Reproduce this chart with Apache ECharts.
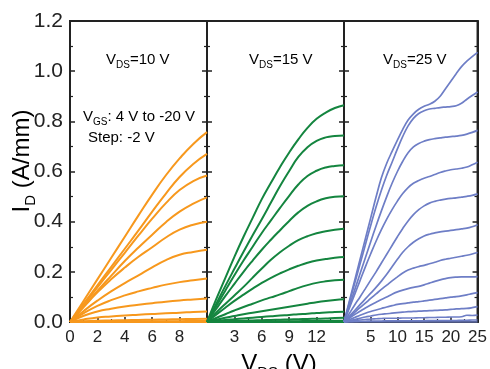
<!DOCTYPE html>
<html>
<head>
<meta charset="utf-8">
<script src="https://cdn.jsdelivr.net/npm/echarts@6/dist/echarts.min.js"></script>
<style>
  html, body { margin: 0; padding: 0; background: #fff; }
  #chart { width: 490px; height: 369px; }
</style>
</head>
<body>
<div id="chart"></div>
<script>
// Output characteristics I_D–V_DS, V_GS from 4 V to -20 V in -2 V steps.

// ---- V_DS = 10 V sweep (x in volts) ----
const vds10X = [0, 1, 2, 3, 4, 5, 6, 7, 8, 9, 10];
const vds10Curves = [
  [0, 0.085, 0.170, 0.255, 0.340, 0.425, 0.508, 0.585, 0.652, 0.710, 0.757],
  [0, 0.073, 0.146, 0.219, 0.292, 0.365, 0.440, 0.512, 0.578, 0.630, 0.670],
  [0, 0.069, 0.138, 0.207, 0.276, 0.345, 0.412, 0.474, 0.526, 0.562, 0.584],
  [0, 0.062, 0.124, 0.184, 0.243, 0.297, 0.348, 0.398, 0.440, 0.472, 0.497],
  [0, 0.060, 0.118, 0.170, 0.217, 0.260, 0.298, 0.337, 0.368, 0.388, 0.400],
  [0, 0.044, 0.085, 0.122, 0.155, 0.186, 0.218, 0.247, 0.268, 0.279, 0.288],
  [0, 0.035, 0.064, 0.087, 0.106, 0.122, 0.136, 0.149, 0.159, 0.166, 0.173],
  [0, 0.025, 0.042, 0.053, 0.062, 0.069, 0.075, 0.081, 0.086, 0.090, 0.094],
  [0, 0.010, 0.018, 0.022, 0.026, 0.029, 0.032, 0.035, 0.037, 0.040, 0.042],
  [0, 0.003, 0.005, 0.006, 0.007, 0.008, 0.009, 0.010, 0.011, 0.012, 0.013],
  [0, 0.001, 0.001, 0.002, 0.002, 0.002, 0.003, 0.003, 0.003, 0.004, 0.004],
  [0, 0, 0, 0, 0, 0.001, 0.001, 0.001, 0.001, 0.001, 0.001],
  [0, 0, 0, 0, 0, 0, 0, 0, 0, 0, 0]
];

// ---- V_DS = 15 V sweep ----
const vds15X = [0, 1, 2, 3, 4, 5, 6, 7, 8, 9, 10, 11, 12, 13, 14, 15];
const vds15Curves = [
  [0, 0.090, 0.175, 0.260, 0.340, 0.415, 0.490, 0.555, 0.618, 0.676, 0.728, 0.774, 0.810, 0.835, 0.853, 0.864],
  [0, 0.072, 0.143, 0.212, 0.280, 0.346, 0.410, 0.476, 0.542, 0.602, 0.658, 0.697, 0.722, 0.736, 0.742, 0.744],
  [0, 0.063, 0.125, 0.186, 0.245, 0.300, 0.355, 0.405, 0.455, 0.503, 0.548, 0.582, 0.603, 0.616, 0.622, 0.625],
  [0, 0.052, 0.103, 0.152, 0.200, 0.245, 0.288, 0.328, 0.366, 0.403, 0.437, 0.463, 0.481, 0.493, 0.499, 0.501],
  [0, 0.037, 0.072, 0.106, 0.140, 0.177, 0.213, 0.248, 0.278, 0.304, 0.326, 0.342, 0.354, 0.362, 0.368, 0.372],
  [0, 0.029, 0.057, 0.084, 0.109, 0.133, 0.156, 0.176, 0.194, 0.210, 0.224, 0.236, 0.245, 0.251, 0.256, 0.259],
  [0, 0.016, 0.031, 0.046, 0.060, 0.073, 0.086, 0.098, 0.110, 0.123, 0.136, 0.147, 0.156, 0.162, 0.166, 0.168],
  [0, 0.009, 0.017, 0.024, 0.031, 0.037, 0.043, 0.049, 0.055, 0.061, 0.067, 0.073, 0.079, 0.084, 0.088, 0.091],
  [0, 0.004, 0.008, 0.011, 0.014, 0.017, 0.020, 0.023, 0.026, 0.028, 0.031, 0.033, 0.036, 0.038, 0.040, 0.041],
  [0, 0.002, 0.003, 0.004, 0.005, 0.006, 0.007, 0.008, 0.009, 0.010, 0.011, 0.012, 0.013, 0.014, 0.016, 0.017],
  [0, 0, 0.001, 0.001, 0.001, 0.002, 0.002, 0.002, 0.003, 0.003, 0.003, 0.004, 0.004, 0.004, 0.005, 0.005],
  [0, 0, 0, 0, 0, 0.001, 0.001, 0.001, 0.001, 0.001, 0.001, 0.001, 0.002, 0.002, 0.002, 0.002],
  [0, 0, 0, 0, 0, 0, 0, 0, 0, 0, 0, 0, 0, 0, 0, 0]
];

// ---- V_DS = 25 V sweep ----
const vds25X = [0, 1, 2, 3, 4, 5, 6, 7, 8, 9, 10, 11, 12, 13, 14, 15, 16, 17, 18, 19, 20, 21, 22, 23, 24, 25];
const vds25Curves = [
  [0, 0.083, 0.166, 0.249, 0.332, 0.415, 0.498, 0.575, 0.633, 0.680, 0.725, 0.768, 0.805, 0.830, 0.848, 0.860, 0.868, 0.880, 0.900, 0.930, 0.960, 0.990, 1.018, 1.040, 1.058, 1.075],
  [0, 0.077, 0.154, 0.231, 0.308, 0.385, 0.458, 0.525, 0.585, 0.637, 0.690, 0.740, 0.782, 0.812, 0.831, 0.842, 0.849, 0.852, 0.855, 0.857, 0.859, 0.862, 0.872, 0.888, 0.903, 0.917],
  [0, 0.064, 0.128, 0.192, 0.256, 0.320, 0.383, 0.443, 0.500, 0.553, 0.600, 0.641, 0.675, 0.698, 0.712, 0.721, 0.727, 0.731, 0.734, 0.737, 0.739, 0.741, 0.744, 0.749, 0.756, 0.764],
  [0, 0.055, 0.110, 0.165, 0.220, 0.272, 0.322, 0.368, 0.410, 0.448, 0.482, 0.512, 0.536, 0.553, 0.564, 0.573, 0.580, 0.588, 0.596, 0.602, 0.607, 0.610, 0.613, 0.618, 0.627, 0.637],
  [0, 0.034, 0.068, 0.100, 0.133, 0.167, 0.200, 0.235, 0.270, 0.305, 0.340, 0.373, 0.403, 0.428, 0.448, 0.463, 0.474, 0.481, 0.486, 0.490, 0.493, 0.495, 0.498, 0.501, 0.505, 0.511],
  [0, 0.023, 0.046, 0.069, 0.092, 0.115, 0.138, 0.163, 0.190, 0.220, 0.250, 0.278, 0.300, 0.318, 0.332, 0.343, 0.350, 0.355, 0.359, 0.362, 0.365, 0.368, 0.371, 0.374, 0.380, 0.388],
  [0, 0.019, 0.038, 0.057, 0.075, 0.094, 0.112, 0.130, 0.147, 0.164, 0.180, 0.195, 0.207, 0.215, 0.221, 0.226, 0.232, 0.238, 0.245, 0.250, 0.254, 0.258, 0.262, 0.266, 0.271, 0.277],
  [0, 0.015, 0.030, 0.043, 0.056, 0.068, 0.079, 0.090, 0.100, 0.111, 0.120, 0.127, 0.133, 0.138, 0.142, 0.148, 0.155, 0.162, 0.168, 0.173, 0.177, 0.179, 0.180, 0.180, 0.180, 0.181],
  [0, 0.009, 0.018, 0.027, 0.035, 0.042, 0.048, 0.054, 0.060, 0.065, 0.070, 0.073, 0.076, 0.079, 0.081, 0.084, 0.087, 0.090, 0.093, 0.096, 0.099, 0.101, 0.104, 0.108, 0.113, 0.117],
  [0, 0.005, 0.010, 0.015, 0.020, 0.024, 0.028, 0.031, 0.033, 0.035, 0.037, 0.039, 0.041, 0.042, 0.043, 0.044, 0.045, 0.046, 0.047, 0.048, 0.050, 0.052, 0.053, 0.054, 0.057, 0.061],
  [0, 0.003, 0.006, 0.008, 0.010, 0.012, 0.013, 0.014, 0.015, 0.015, 0.015, 0.016, 0.016, 0.016, 0.017, 0.017, 0.018, 0.018, 0.019, 0.019, 0.020, 0.020, 0.021, 0.027, 0.026, 0.028],
  [0, 0.001, 0.002, 0.003, 0.003, 0.004, 0.004, 0.004, 0.005, 0.005, 0.005, 0.005, 0.005, 0.005, 0.005, 0.005, 0.006, 0.006, 0.006, 0.006, 0.006, 0.006, 0.007, 0.007, 0.008, 0.008],
  [0, 0, 0, 0, 0, 0, 0, 0, 0, 0, 0, 0, 0, 0, 0, 0, 0, 0, 0, 0, 0, 0, 0, 0, 0, 0]
];

// Axis ranges and tick spacing per panel
const panelXMax = [10, 15, 25];
const panelXStep = [2, 3, 5];
const yTicks = [0, 0.2, 0.4, 0.6, 0.8, 1.0, 1.2];
const panelColors = ['#F7981D', '#14853F', '#6E7EC6'];

const FONT = '"Liberation Sans", Arial, sans-serif';
const INK = '#222';

const chart = echarts.init(document.getElementById('chart'), null, { renderer: 'canvas' });

const grids = [
  { left: 70, top: 21, width: 137, height: 301 },
  { left: 207, top: 21, width: 137, height: 301 },
  { left: 344, top: 21, width: 135, height: 301 }
].map(g => Object.assign(g, { show: true, borderColor: INK, borderWidth: 2, backgroundColor: 'transparent' }));

const tickCommon = {
  axisLine: { show: true, onZero: false, lineStyle: { color: INK, width: 2 } },
  axisTick: { show: true, inside: true, length: 5, lineStyle: { color: INK, width: 1.5 } },
  minorTick: { show: true, splitNumber: 2, length: 3, lineStyle: { color: INK, width: 1.2 } },
  splitLine: { show: false },
  minorSplitLine: { show: false }
};

const xAxes = panelXMax.map((mx, i) => Object.assign({
  gridIndex: i,
  type: 'value',
  min: 0,
  max: mx,
  interval: panelXStep[i],
  axisLabel: {
    show: true,
    fontFamily: FONT,
    fontSize: 17,
    color: INK,
    margin: 7,
    showMinLabel: i === 0,
    showMaxLabel: i === 2
  }
}, tickCommon));

const yAxes = [];
for (let i = 0; i < 3; i++) {
  yAxes.push(Object.assign({
    gridIndex: i,
    type: 'value',
    position: 'left',
    min: yTicks[0],
    max: yTicks[yTicks.length - 1],
    interval: 0.2,
    axisLabel: {
      show: i === 0,
      fontFamily: FONT,
      fontSize: 21,
      color: INK,
      margin: 7,
      formatter: v => v.toFixed(1)
    }
  }, tickCommon));
  yAxes.push(Object.assign({
    gridIndex: i,
    type: 'value',
    position: 'right',
    min: yTicks[0],
    max: yTicks[yTicks.length - 1],
    interval: 0.2,
    axisLabel: { show: false }
  }, tickCommon));
}

const series = [];
[[vds10X, vds10Curves], [vds15X, vds15Curves], [vds25X, vds25Curves]].forEach(([xs, curves], p) => {
  curves.forEach((vals, k) => {
    series.push({
      type: 'line',
      name: 'p' + p + '_' + k,
      xAxisIndex: p,
      yAxisIndex: p * 2,
      data: xs.map((x, j) => [x, vals[j]]),
      showSymbol: false,
      smooth: p === 2 ? 0.4 : 0.5,
      clip: true,
      silent: true,
      z: 3,
      lineStyle: { color: panelColors[p], width: p === 2 ? 1.7 : 2 }
    });
  });
});

const textRich = {
  m: { fontFamily: FONT, fontSize: 15, color: INK, lineHeight: 18, verticalAlign: 'bottom' },
  s: { fontFamily: FONT, fontSize: 10, color: INK, lineHeight: 12, verticalAlign: 'bottom', padding: [0, 0, -3, 0] }
};

function note(x, y, text) {
  return {
    type: 'text',
    x: x,
    y: y,
    z: 10,
    style: { text: text, rich: textRich, align: 'left', verticalAlign: 'middle' }
  };
}

const titleRich = {
  a: { fontFamily: FONT, fontSize: 24, color: INK, lineHeight: 28, verticalAlign: 'bottom' },
  b: { fontFamily: FONT, fontSize: 15, color: INK, lineHeight: 16, verticalAlign: 'bottom', padding: [0, 0, -4, 0] }
};

const graphics = [
  note(106, 58, '{m|V}{s|DS}{m|=10 V}'),
  note(249, 58, '{m|V}{s|DS}{m|=15 V}'),
  note(383, 58, '{m|V}{s|DS}{m|=25 V}'),
  note(83, 115, '{m|V}{s|GS}{m|: 4 V to -20 V}'),
  note(88, 136, '{m|Step: -2 V}'),
  {
    type: 'text',
    x: 20,
    y: 161,
    rotation: Math.PI / 2,
    z: 10,
    style: { text: '{a|I}{b|D}{a| (A/mm)}', align: 'center', verticalAlign: 'middle', rich: titleRich }
  },
  {
    type: 'text',
    x: 279,
    y: 362,
    z: 10,
    style: { text: '{a|V}{b|DS}{a| (V)}', align: 'center', verticalAlign: 'middle', rich: titleRich }
  }
];

chart.setOption({
  animation: false,
  backgroundColor: '#fff',
  grid: grids,
  xAxis: xAxes,
  yAxis: yAxes,
  series: series,
  graphic: graphics
});
</script>
</body>
</html>
